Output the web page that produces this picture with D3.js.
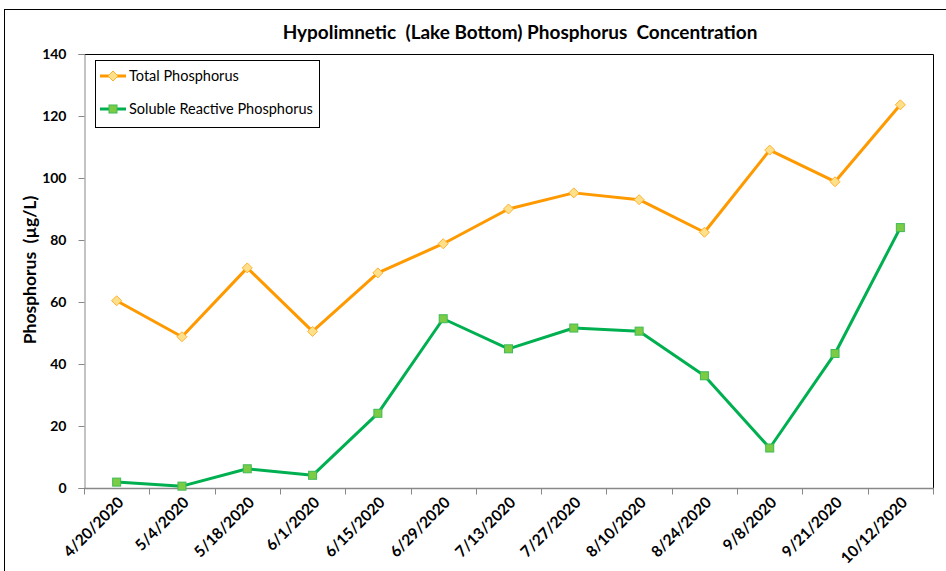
<!DOCTYPE html>
<html><head><meta charset="utf-8">
<script src="https://cdn.jsdelivr.net/npm/d3@7"></script>
<style>body{margin:0;background:#fff}svg{display:block}text{font-family:Lato,"Liberation Sans",sans-serif}</style>
</head><body>
<svg id="c" width="946" height="571"></svg>
<script>
const categories = ["4/20/2020","5/4/2020","5/18/2020","6/1/2020","6/15/2020","6/29/2020","7/13/2020","7/27/2020","8/10/2020","8/24/2020","9/8/2020","9/21/2020","10/12/2020"];
const totalP = [60.4, 48.8, 71.0, 50.5, 69.4, 78.8, 90.0, 95.2, 93.0, 82.5, 109.0, 98.8, 123.6];
const srp = [1.9, 0.6, 6.2, 4.1, 24.1, 54.6, 44.9, 51.6, 50.6, 36.2, 12.9, 43.4, 84.0];
const yTicks = [0, 20, 40, 60, 80, 100, 120, 140];
const seriesNames = ["Total Phosphorus", "Soluble Reactive Phosphorus"];
const title = "Hypolimnetic\u00A0 (Lake Bottom) Phosphorus\u00A0 Concentration";
const yTitle = "Phosphorus\u00A0 (\u00B5g/L)";

const svg = d3.select("#c");
const L = 84, R = 933, T = 54, B = 488;

// outer border
svg.append("rect").attr("x", 4.5).attr("y", 9.5).attr("width", 960).attr("height", 600)
  .attr("fill", "none").attr("stroke", "#000").attr("stroke-width", 1);

const x = d3.scaleBand().domain(categories).range([L, R]).padding(0);
const y = d3.scaleLinear().domain([0, 140]).range([B, T]);

// plot border (top & right black)
svg.append("path").attr("d", `M${L},${T+0.5}H${R+0.5}V${B}`).attr("fill", "none").attr("stroke", "#000").attr("stroke-width", 1);

// y axis
const yAxis = d3.axisLeft(y).tickValues(yTicks).tickSize(6).tickPadding(12);
const gy = svg.append("g").attr("transform", `translate(${L+0.5},0)`).call(yAxis);
gy.select(".domain").attr("stroke", "#888");
gy.selectAll(".tick line").attr("stroke", "#888");
gy.selectAll(".tick text").attr("font-size", 14).attr("font-weight", "bold").attr("fill", "#000");

// x axis: ticks at category boundaries
const gx = svg.append("g").attr("transform", `translate(0,${B+0.5})`);
gx.append("line").attr("x1", L).attr("x2", R + 1).attr("stroke", "#888").attr("stroke-width", 1.5);
const bounds = categories.map(c => x(c)).concat([R]);
gx.selectAll("line.tk").data(bounds).enter().append("line").attr("class", "tk")
  .attr("x1", d => Math.round(d) + 0.5).attr("x2", d => Math.round(d) + 0.5).attr("y1", 0).attr("y2", 6)
  .attr("stroke", "#888");
gx.selectAll("text").data(categories).enter().append("text")
  .attr("transform", d => `translate(${x(d) + x.bandwidth()/2 + 8},${15}) rotate(-45)`)
  .attr("text-anchor", "end").attr("font-size", 15.5).attr("font-weight", "bold").attr("fill", "#000")
  .text(d => d);

const cx = d => x(d) + x.bandwidth() / 2;
const line = d3.line().x(d => cx(d.c)).y(d => y(d.v));
const orange = "#FF9900", green = "#00B050";
const tp = categories.map((c, i) => ({c, v: totalP[i]}));
const sr = categories.map((c, i) => ({c, v: srp[i]}));

svg.append("path").datum(tp).attr("d", line).attr("fill", "none").attr("stroke", orange).attr("stroke-width", 3).attr("stroke-linejoin", "round");
svg.append("path").datum(sr).attr("d", line).attr("fill", "none").attr("stroke", green).attr("stroke-width", 3).attr("stroke-linejoin", "round");

const diamond = (g, px, py) => g.append("path").attr("d", `M${px},${py-5}L${px+5},${py}L${px},${py+5}L${px-5},${py}Z`)
  .attr("fill", "#FFE08A").attr("stroke", "#FFB030").attr("stroke-width", 1);
const square = (g, px, py) => g.append("rect").attr("x", px - 4).attr("y", py - 4).attr("width", 8).attr("height", 8)
  .attr("fill", "#7CCB45").attr("stroke", "#3DBB55").attr("stroke-width", 1);

const mk = svg.append("g");
tp.forEach(d => diamond(mk, cx(d.c), y(d.v)));
sr.forEach(d => square(mk, cx(d.c), y(d.v)));

// legend
const lg = svg.append("g");
lg.append("rect").attr("x", 95.5).attr("y", 60.5).attr("width", 224).attr("height", 67).attr("fill", "#fff").attr("stroke", "#000");
lg.append("line").attr("x1", 100).attr("x2", 126).attr("y1", 76).attr("y2", 76).attr("stroke", orange).attr("stroke-width", 3);
diamond(lg, 113, 76);
lg.append("text").attr("x", 129).attr("y", 81).attr("font-size", 14.5).text(seriesNames[0]);
lg.append("line").attr("x1", 100).attr("x2", 126).attr("y1", 109).attr("y2", 109).attr("stroke", green).attr("stroke-width", 3);
square(lg, 113, 109);
lg.append("text").attr("x", 129).attr("y", 114).attr("font-size", 14.5).text(seriesNames[1]);

// title
const tt = svg.append("text").attr("x", 520).attr("y", 39).attr("text-anchor", "middle")
  .attr("font-size", 16).attr("font-weight", "bold").text(title);
const tw = tt.node().getComputedTextLength();
tt.attr("font-size", 16 * 475 / tw);

// y title
svg.append("text").attr("transform", "translate(36,270) rotate(-90)").attr("text-anchor", "middle")
  .attr("font-size", 17.5).attr("font-weight", "bold").text(yTitle);
</script>
</body></html>
